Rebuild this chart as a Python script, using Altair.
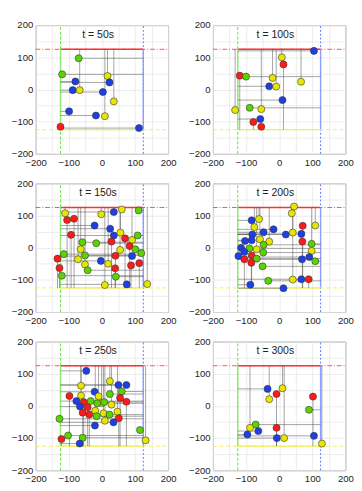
import altair as alt
import pandas as pd

TIMES = [50, 100, 150, 200, 250, 300]

# agent positions per snapshot (x, y, colour group)
T50_X = [-70, -120, 17, -80, 23, -88, -67, 3, 36, -99, -18, 9, -125, 112]
T50_Y = [97, 47, 42, 25, 22, -2, -2, -8, -37, -68, -81, -83, -116, -120]
T50_C = ["g", "g", "y", "b", "b", "b", "y", "b", "y", "b", "b", "y", "r", "b"]

T100_X = [105, 8, 13, -119, -100, -20, 66, -30, -9, 10, -133, -89, -54, -57, -78, -54]
T100_Y = [120, 100, 78, 43, 40, 36, 24, 10, 9, -33, -64, -57, -61, -92, -101, -116]
T100_C = ["b", "y", "r", "r", "g", "y", "y", "b", "y", "b", "y", "g", "y", "b", "r", "r"]

T150_X = [-111, -105, -84, -2, 36, 60, 111, -22, 25, -93, 36, 56, 70, 91, 108,
          -59, -17, 29, -64, 55, 84, 101, 119, -115, -134, -72, -51, 41, 91, -3,
          19, 113, 88, -51, -128, 40, -43, -121, 42, 9, 75, 137]
T150_Y = [107, 86, 90, 104, 111, 119, 116, 69, 59, 40, 38, 47, 29, 24, 38,
          17, 14, 19, -5, -7, 5, -5, -17, -20, -34, -36, -24, -25, -26, -41,
          -50, -48, -55, -52, -63, -64, -70, -87, -90, -116, -114, -113]
T150_C = ["y", "r", "r", "y", "b", "y", "g", "b", "b", "r", "b", "y", "r", "y", "g",
          "g", "g", "r", "y", "y", "r", "g", "g", "g", "r", "y", "g", "r", "b", "b",
          "y", "r", "r", "y", "r", "r", "g", "g", "g", "y", "b", "y"]

T200_X = [45, 38, -83, -61, -75, -47, -17, 71, 109, -81, 20, 41, 67, -103, -83,
          -58, -30, 70, 98, -115, -90, -68, -47, -48, 98, -123, -105, -105, -83, -68,
          -84, 69, 91, 109, -50, 41, 67, 89, -33, -87, 13]
T200_Y = [128, 107, 85, 89, 64, 48, 57, 68, 69, 41, 41, 47, 43, 21, 23,
          26, 19, 19, 12, 0, -2, -5, 9, -15, -10, -26, -13, -36, -24, -34,
          -47, -36, -29, -42, -58, -99, -98, -98, -103, -115, -126]
T200_C = ["y", "y", "b", "y", "y", "b", "b", "r", "y", "b", "b", "y", "b", "b", "b",
          "y", "y", "r", "g", "b", "g", "y", "g", "g", "y", "b", "b", "r", "r", "g",
          "r", "b", "b", "g", "g", "y", "b", "r", "g", "b", "b"]

T250_X = [-47, 24, 50, 74, -63, 60, -22, -63, -98, -10, 24, 55, -34, -77, -55,
          -1, -14, 7, 74, -66, -43, 29, -58, -38, -20, 5, 23, -16, 47, 51,
          35, 9, -128, -21, 115, -102, -58, -122, -67, 132]
T250_Y = [109, 77, 65, 65, 63, 45, 44, 32, 31, 30, 37, 25, 15, 15, 12,
          9, 8, 12, 13, -2, -4, 4, -21, -27, -15, -23, -27, -32, -18, -38,
          -51, -46, -40, -61, -75, -92, -99, -103, -117, -107]
T250_C = ["b", "y", "b", "b", "y", "g", "b", "y", "r", "y", "g", "r", "g", "b", "r",
          "y", "g", "g", "r", "b", "r", "y", "r", "r", "y", "y", "g", "g", "y", "r",
          "b", "y", "g", "b", "g", "g", "g", "r", "b", "y"]

T300_X = [-35, 10, -8, -30, 102, 90, -71, -88, -63, -8, -96, -7, 15, 105, 129]
T300_Y = [53, 55, 37, 21, 29, -12, -58, -68, -78, -68, -89, -100, -100, -93, -117]
T300_C = ["b", "y", "r", "y", "r", "g", "g", "y", "b", "r", "b", "b", "y", "b", "y"]

SNAPSHOTS = [
    (T50_X, T50_Y, T50_C), (T100_X, T100_Y, T100_C),
    (T150_X, T150_Y, T150_C), (T200_X, T200_Y, T200_C),
    (T250_X, T250_Y, T250_C), (T300_X, T300_Y, T300_C),
]

GROUPS = ["r", "g", "b", "y"]
FILLS = ["#ff1a1a", "#5ad400", "#1f3fe6", "#e6e600"]

# arena: exit boundaries at +-125, axes +-200
ARENA = 125
LIM = 200

# boundary lines: (group, orientation, fixed coordinate)
BOUND_GROUP = ["r", "g", "b", "y"]
BOUND_ORIENT = ["h", "v", "v", "h"]
BOUND_POS = [ARENA, -ARENA, ARENA, -ARENA]
DASH_COLORS = ["#ff4d4d", "#5ee03a", "#5570ff", "#f0f040"]
SOLID_COLORS = ["#ff3030", "#8fe870", "#8c9cff", "#eeee55"]
DASHES = [[5, 2, 1, 2], [3, 2], [2, 2], [4, 3]]

W, H = 139, 135


def bound_rows(extent):
    rows = []
    for g, o, p in zip(BOUND_GROUP, BOUND_ORIENT, BOUND_POS):
        if o == "h":
            rows.append({"g": g, "x": -extent, "x2": extent, "y": p, "y2": p})
        else:
            rows.append({"g": g, "x": p, "x2": p, "y": -extent, "y2": extent})
    return pd.DataFrame(rows)


def trail_rows(xs, ys, cs):
    # each agent has travelled from the side opposite its target boundary
    rows = []
    for x, y, c in zip(xs, ys, cs):
        if c == "b":
            sx, sy = -ARENA, y
        elif c == "g":
            sx, sy = ARENA, y
        elif c == "r":
            sx, sy = x, -ARENA
        else:
            sx, sy = x, ARENA
        rows.append({"x": sx, "y": sy, "x2": x, "y2": y})
    return pd.DataFrame(rows)


grid_vals = list(range(-LIM, LIM + 1, 50))
xscale = alt.Scale(domain=[-LIM, LIM], nice=False, zero=False)
yscale = alt.Scale(domain=[-LIM, LIM], nice=False, zero=False)
lab_expr = "datum.value % 100 == 0 ? datum.label : ''"
xaxis = alt.Axis(values=grid_vals, labelExpr=lab_expr, title=None, ticks=False,
                 domain=False, labelPadding=4, labelFlush=False)
yaxis = alt.Axis(values=grid_vals, labelExpr=lab_expr, title=None, ticks=False,
                 domain=False, labelPadding=3)


def panel(t, xs, ys, cs):
    layers = []
    full = bound_rows(LIM)
    inner = bound_rows(ARENA)
    for g, dc, sc, d in zip(BOUND_GROUP, DASH_COLORS, SOLID_COLORS, DASHES):
        layers.append(
            alt.Chart(full[full.g == g]).mark_rule(color=dc, strokeDash=d, strokeWidth=1).encode(
                x=alt.X("x:Q", scale=xscale, axis=xaxis), x2="x2:Q",
                y=alt.Y("y:Q", scale=yscale, axis=yaxis), y2="y2:Q"))
        layers.append(
            alt.Chart(inner[inner.g == g]).mark_rule(color=sc, strokeWidth=1.4).encode(
                x=alt.X("x:Q", scale=xscale, axis=xaxis), x2="x2:Q",
                y=alt.Y("y:Q", scale=yscale, axis=yaxis), y2="y2:Q"))

    trails = alt.Chart(trail_rows(xs, ys, cs)).mark_rule(
        color="#4a4a4a", strokeWidth=0.7, opacity=0.75).encode(
        x=alt.X("x:Q", scale=xscale, axis=xaxis), x2="x2:Q",
        y=alt.Y("y:Q", scale=yscale, axis=yaxis), y2="y2:Q")

    pts = pd.DataFrame({"x": xs, "y": ys, "c": cs})
    points = alt.Chart(pts).mark_circle(size=55, opacity=1, stroke="#333333",
                                        strokeWidth=0.6).encode(
        x=alt.X("x:Q", scale=xscale, axis=xaxis),
        y=alt.Y("y:Q", scale=yscale, axis=yaxis),
        fill=alt.Fill("c:N", scale=alt.Scale(domain=GROUPS, range=FILLS), legend=None))

    label = alt.Chart(pd.DataFrame({"t": [f"t = {t}s"]})).mark_text(
        font="Liberation Sans", fontSize=11, color="#222222", baseline="middle",
        align="center").encode(
        text="t:N", x=alt.value(W / 2 - 4), y=alt.value(10))

    return alt.layer(*layers, trails, points, label).properties(width=W, height=H)


panels = [panel(t, *s) for t, s in zip(TIMES, SNAPSHOTS)]
rows = [alt.hconcat(panels[i], panels[i + 1], spacing=11) for i in (0, 2, 4)]
chart = alt.vconcat(*rows, spacing=10).properties(
    padding={"left": 2, "top": 0, "right": 0, "bottom": 0}
).configure_view(stroke="#9a9a9a", strokeWidth=1).configure_axis(
    labelFont="Liberation Sans", labelFontSize=10, labelColor="#222222",
    gridColor="#e6e6e6", gridWidth=0.8
)

chart.save("out.html", embed_options={"renderer": "svg", "actions": False})
